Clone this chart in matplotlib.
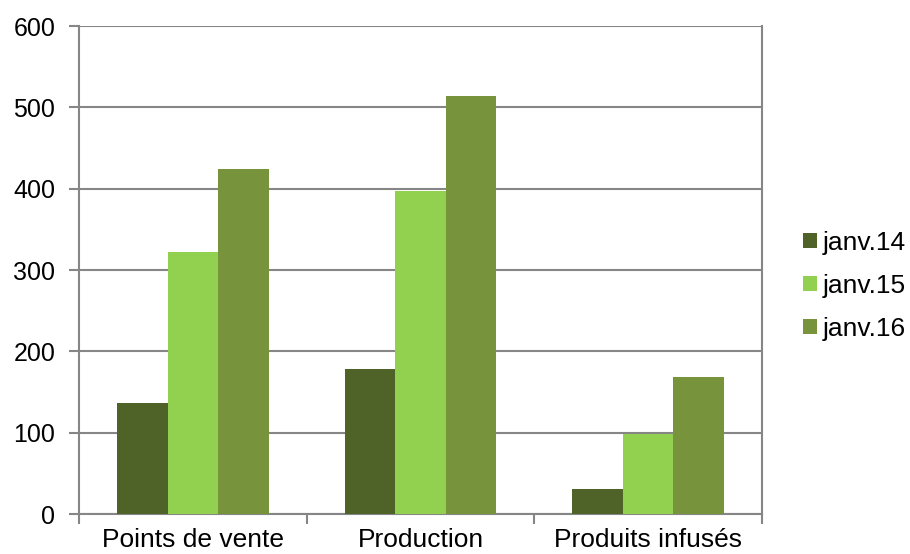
import matplotlib.pyplot as plt
import numpy as np

plt.rcParams['font.family'] = ['Liberation Sans', 'DejaVu Sans']

categories = ["Points de vente", "Production", "Produits infusés"]
series = ["janv.14", "janv.15", "janv.16"]
jan14 = [136, 178, 31]
jan15 = [322, 397, 98]
jan16 = [424, 514, 168]
colors = ["#4F6228", "#92D050", "#77933C"]

GRID = "#868686"

fig = plt.figure(figsize=(9.1, 5.54), dpi=100)
ax = fig.add_axes([0.0868, 0.0722, 0.7505, 0.8808])

x = np.arange(len(categories))
w = 0.222
for i, (vals, name, c) in enumerate(zip([jan14, jan15, jan16], series, colors)):
    ax.bar(x + (i - 1) * w, vals, width=w, color=c, label=name, zorder=3)

ax.set_xlim(-0.5, len(categories) - 0.5)
ax.set_ylim(0, 600)
ax.set_yticks(range(0, 601, 100))
ax.yaxis.grid(True, color=GRID, linewidth=1.5, zorder=0)

# category labels centered, tick marks at the boundaries
ax.set_xticks(x)
ax.set_xticklabels(categories, fontsize=19)
ax.tick_params(axis='x', length=0, pad=10)
ax.set_xticks(np.arange(-0.5, len(categories)), minor=True)
ax.tick_params(axis='x', which='minor', length=7, width=1.5, color=GRID)
ax.tick_params(axis='y', length=7, width=1.5, color=GRID, labelsize=18, pad=10)

for s in ax.spines.values():
    s.set_color(GRID)
    s.set_linewidth(1.5)
ax.spines['top'].set_visible(False)

ax.legend(loc='center left', bbox_to_anchor=(803 / 910, 1 - 286 / 554),
          bbox_transform=fig.transFigure, frameon=False, fontsize=19,
          handlelength=0.53, handleheight=0.53, handletextpad=0.23,
          labelspacing=0.72, borderaxespad=0, borderpad=0)

fig.savefig("out.png", dpi=100, facecolor="white")
